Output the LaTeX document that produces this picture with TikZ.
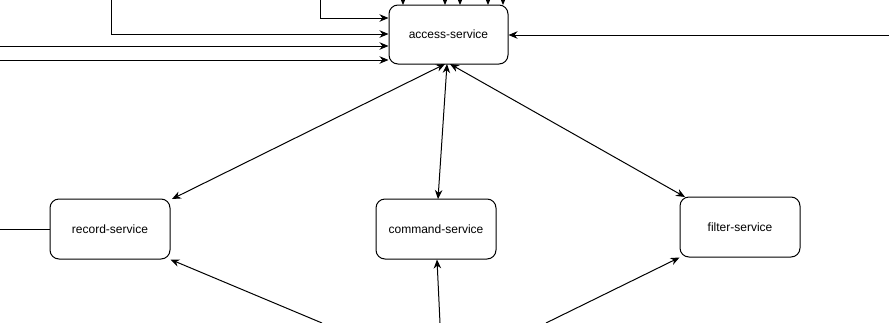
\documentclass[tikz,border=0pt]{standalone}
\usepackage{fontspec}
\setmainfont{Liberation Sans}
\usetikzlibrary{arrows.meta}
\begin{document}
\begin{tikzpicture}[x=1pt,y=-1pt,
  svc/.style={draw,line width=1pt,rounded corners=9pt,minimum width=119pt,minimum height=59pt,inner sep=0pt,font=\fontsize{12}{14}\selectfont},
  conn/.style={line width=1pt,-{Stealth[length=9pt,width=7.5pt]}},
  dconn/.style={line width=1pt,{Stealth[length=9pt,width=7.5pt]}-{Stealth[length=9pt,width=7.5pt]}},
  plain/.style={line width=1pt}]
\useasboundingbox (0,0) rectangle (889,322);
\node[svc] (acc) at (448.5,34.5) {access-service};
\node[svc,minimum width=120pt,minimum height=60pt] (rec) at (110,229) {record-service};
\node[svc,minimum width=120pt,minimum height=60pt] (cmd) at (436,229) {command-service};
\node[svc,minimum width=120pt,minimum height=60pt] (fil) at (740,227) {filter-service};
% coordinates for free ends
\coordinate (t1) at (403,-2);
\coordinate (t2) at (445,-2);
\coordinate (t3) at (460,-2);
\coordinate (t4) at (488,-2);
\coordinate (t5) at (503,-2);
\coordinate (l1) at (320,-2);
\coordinate (l2) at (111,-2);
\coordinate (l3) at (-2,46);
\coordinate (l4) at (-2,60);
\coordinate (r1) at (891,35);
\coordinate (lr) at (-2,229);
\coordinate (b1) at (322,323);
\coordinate (b2) at (440,323);
\coordinate (b3) at (546,323);
% top arrows
\foreach \c/\x in {t1/403,t2/445,t3/460,t4/488,t5/503}
  \draw[conn] (\c) -- (\x,5);
% left incoming
\draw[conn] (l1) |- (acc.west |- 0,18);
\draw[conn] (l2) |- (acc.west |- 0,34);
\draw[conn] (l3) -- (acc.west |- l3);
\draw[conn] (l4) -- (acc.west |- l4);
% right incoming
\draw[conn] (r1) -- (acc.east |- r1);
% double arrows
\draw[dconn] (445,64) -- (172,199);
\draw[dconn] (447,64) -- (438,199);
\draw[dconn] (450,64) -- (685,197);
% line to record
\draw[plain] (lr) -- (rec.west);
% bottom arrows
\draw[conn] (b1) -- (rec.south east);
\draw[conn] (b2) -- (cmd.south -| 437,0);
\draw[conn] (b3) -- (fil.south west);
\end{tikzpicture}
\end{document}
